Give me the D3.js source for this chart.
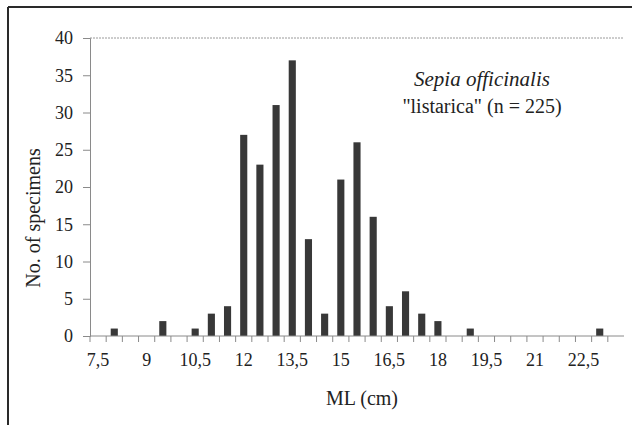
<!DOCTYPE html>
<html>
<head>
<meta charset="utf-8">
<script src="https://cdn.jsdelivr.net/npm/d3@7"></script>
<style>
  body { margin: 0; background: #fff; }
  svg { display: block; }
  svg text { font-family: "Liberation Serif", "Times New Roman", serif !important; }
</style>
</head>
<body>
<svg width="632" height="425"></svg>
<script>
// mantle length classes (cm) and counts
const lengths = [7.5, 8, 8.5, 9, 9.5, 10, 10.5, 11, 11.5, 12, 12.5, 13, 13.5, 14, 14.5, 15, 15.5,
  16, 16.5, 17, 17.5, 18, 18.5, 19, 19.5, 20, 20.5, 21, 21.5, 22, 22.5, 23, 23.5]
const counts = [0, 1, 0, 0, 2, 0, 1, 3, 4, 27, 23, 31, 37, 13, 3, 21, 26,
  16, 4, 6, 3, 2, 0, 1, 0, 0, 0, 0, 0, 0, 0, 1, 0]
const labelled = [7.5, 9, 10.5, 12, 13.5, 15, 16.5, 18, 19.5, 21, 22.5]
const yTicks = [0, 5, 10, 15, 20, 25, 30, 35, 40]

const data = lengths.map((l, i) => ({ l, n: counts[i] }))

const svg = d3.select('svg')
const margin = { left: 90, right: 8, top: 38, bottom: 89 }
const width = 632, height = 425

// frame lines of the scanned figure
svg.append('line').attr('x1', 8).attr('x2', width).attr('y1', 7).attr('y2', 7)
  .attr('stroke', '#2a2a2a').attr('stroke-width', 2)
svg.append('line').attr('x1', 8).attr('x2', 8).attr('y1', 7).attr('y2', height)
  .attr('stroke', '#2a2a2a').attr('stroke-width', 2)

const x = d3.scaleBand()
  .domain(lengths)
  .range([margin.left, width - margin.right])
  .padding(0)

const y = d3.scaleLinear()
  .domain([0, 40])
  .range([height - margin.bottom, margin.top])

// top gridline
svg.append('line')
  .attr('x1', x.range()[0]).attr('x2', x.range()[1])
  .attr('y1', y(40)).attr('y2', y(40))
  .attr('stroke', '#9a9a9a').attr('stroke-dasharray', '2,1')

// bars
const barFrac = 0.44
svg.append('g')
  .selectAll('rect')
  .data(data.filter(d => d.n > 0))
  .enter().append('rect')
    .attr('x', d => x(d.l) + x.bandwidth() * (1 - barFrac) / 2)
    .attr('width', x.bandwidth() * barFrac)
    .attr('y', d => y(d.n))
    .attr('height', d => y(0) - y(d.n))
    .attr('fill', '#383838')

// y axis
const yAxis = svg.append('g')
  .attr('transform', `translate(${margin.left},0)`)
  .call(d3.axisLeft(y).tickValues(yTicks).tickSize(7).tickPadding(10))
yAxis.attr('font-family', null)
yAxis.select('.domain').attr('stroke', '#8a8a8a')
yAxis.selectAll('.tick line').attr('stroke', '#8a8a8a')
yAxis.selectAll('text').attr('font-size', 18).attr('fill', '#222')

// x axis: labels centred on classes, ticks at class boundaries
const xAxis = svg.append('g')
  .attr('transform', `translate(0,${y(0)})`)
  .call(d3.axisBottom(x).tickValues(labelled).tickSize(0).tickPadding(17)
    .tickFormat(d => String(d).replace('.', ',')))
xAxis.attr('font-family', null)
xAxis.select('.domain').remove()
xAxis.selectAll('text').attr('font-size', 18).attr('fill', '#222')

svg.append('line')
  .attr('x1', x.range()[0]).attr('x2', x.range()[1])
  .attr('y1', y(0)).attr('y2', y(0))
  .attr('stroke', '#8a8a8a')

svg.append('g')
  .selectAll('line')
  .data(lengths)
  .enter().append('line')
    .attr('x1', d => x(d)).attr('x2', d => x(d))
    .attr('y1', y(0)).attr('y2', y(0) + 6)
    .attr('stroke', '#8a8a8a')

// axis titles
svg.append('text')
  .attr('transform', `translate(40,218) rotate(-90)`)
  .attr('text-anchor', 'middle')
  .attr('font-size', 20)
  .attr('fill', '#222')
  .text('No. of specimens')

svg.append('text')
  .attr('x', 362).attr('y', 405)
  .attr('text-anchor', 'middle')
  .attr('font-size', 20)
  .attr('fill', '#222')
  .text('ML (cm)')

// annotation
svg.append('text')
  .attr('x', 482).attr('y', 86)
  .attr('text-anchor', 'middle')
  .attr('font-size', 21)
  .attr('font-style', 'italic')
  .attr('fill', '#222')
  .text('Sepia officinalis')

svg.append('text')
  .attr('x', 482).attr('y', 113)
  .attr('text-anchor', 'middle')
  .attr('font-size', 20)
  .attr('fill', '#222')
  .text('"listarica" (n = 225)')
</script>
</body>
</html>
